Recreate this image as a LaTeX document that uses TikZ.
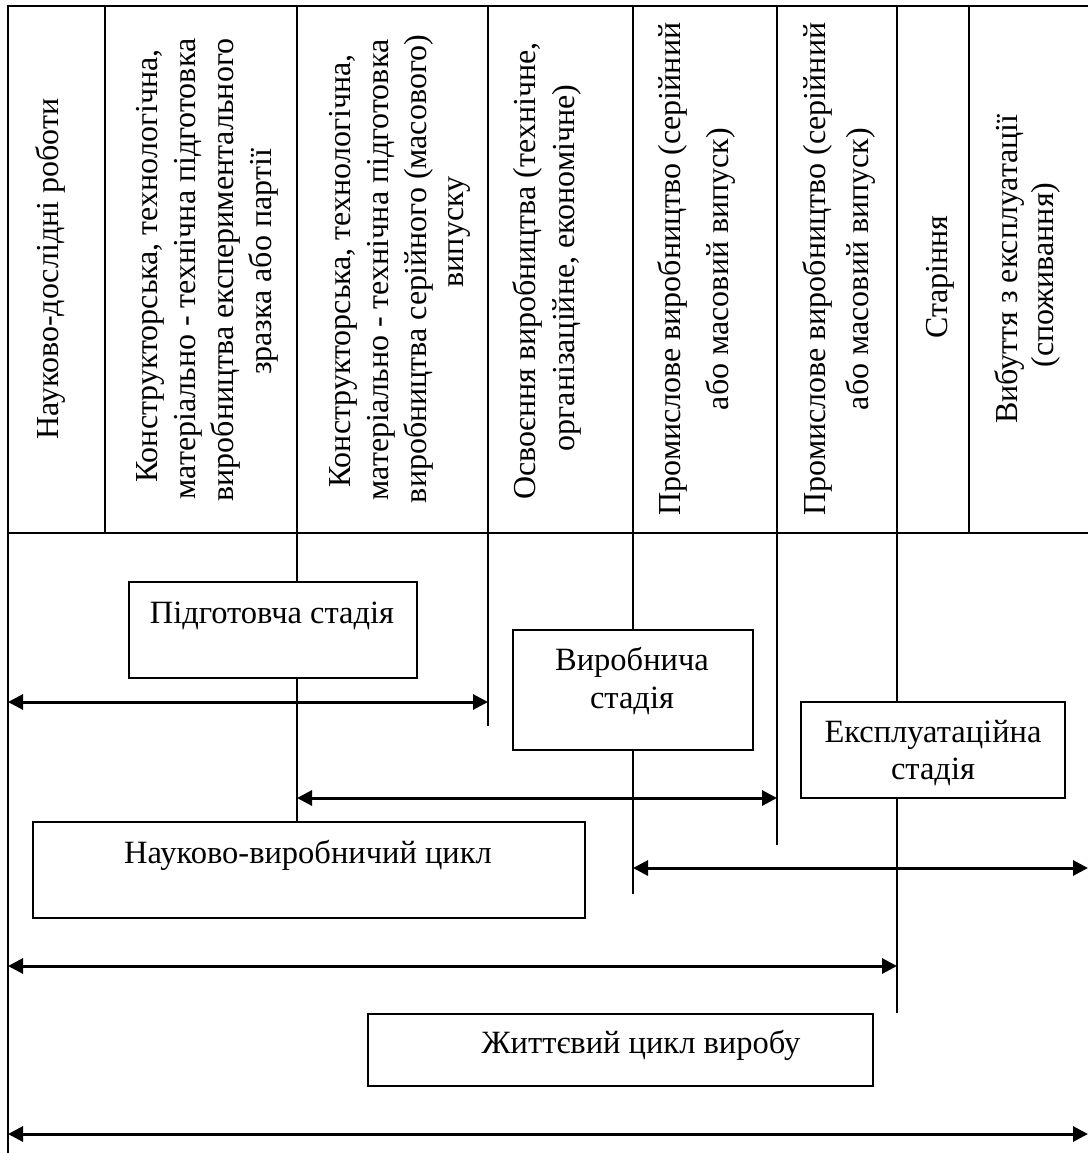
\documentclass[tikz,border=0pt]{standalone}
\usepackage{fontspec}
\setmainfont{Liberation Serif}
\usetikzlibrary{arrows.meta}
\begin{document}
\begin{tikzpicture}[x=1pt,y=-1pt,
  frame/.style={line width=2.3pt},
  thinline/.style={line width=2pt},
  box/.style={draw, line width=2pt, inner sep=0pt, fill=white},
  vtext/.style={rotate=90, anchor=base, inner sep=0pt, font=\fontsize{32}{37}\selectfont},
  htext/.style={anchor=base, inner sep=0pt, font=\fontsize{32.5}{37}\selectfont},
  span/.style={line width=3pt, {Triangle[length=15pt,width=15pt]}-{Triangle[length=15pt,width=15pt]}}
]
\useasboundingbox (0,0) rectangle (1088,1153);
% frame coordinates
\coordinate (tl) at (8,6);
\coordinate (tr) at (1088,6);
\coordinate (bl) at (8,1153);
\coordinate (hl) at (8,533);
\coordinate (hr) at (1088,533);
\foreach \x/\n in {105/1,297/2,488/3,633/4,777/5,897/6,969/7} {
  \coordinate (t\n) at (\x,6);
  \coordinate (h\n) at (\x,533);
}
\draw[frame] (tr) -- (tl) -- (bl);
\draw[frame] (hl) -- (hr);
\foreach \n in {1,...,7} { \draw[frame] (t\n) -- (h\n); }

% header texts
\node[vtext] (c1a) at (58,269) {Науково-дослідні роботи};
\node[vtext] (c2a) at (157,266) {Конструкторська, технологічна,};
\node[vtext] (c2b) at (195,269) {матеріально - технічна підготовка};
\node[vtext] (c2c) at (233,270) {виробництва експериментального};
\node[vtext] (c2d) at (271,262) {зразка або партії};
\node[vtext] (c3a) at (350,271) {Конструкторська, технологічна,};
\node[vtext] (c3b) at (388,270) {матеріально - технічна підготовка};
\node[vtext] (c3c) at (426,269) {виробництва серійного (масового)};
\node[vtext] (c3d) at (463,232) {випуску};
\node[vtext] (c4a) at (535,271) {Освоєння виробництва (технічне,};
\node[vtext] (c4b) at (574,268) {організаційне, економічне)};
\node[vtext] (c5a) at (680,269) {Промислове виробництво (серійний};
\node[vtext] (c5b) at (728,269) {або масовий випуск)};
\node[vtext] (c6a) at (825,269) {Промислове виробництво (серійний};
\node[vtext] (c6b) at (868,269) {або масовий випуск)};
\node[vtext] (c7a) at (947,277) {Старіння};
\node[vtext] (c8a) at (1017,269) {Вибуття з експлуатації};
\node[vtext] (c8b) at (1053,275) {(споживання)};

% boxes
\node[box, minimum width=288pt, minimum height=96pt] (prep) at (273,630) {};
\node[box, minimum width=240pt, minimum height=120pt] (prod) at (633,690) {};
\node[box, minimum width=264pt, minimum height=96pt] (expl) at (933,750) {};
\node[box, minimum width=552pt, minimum height=96pt] (nvc) at (309,870) {};
\node[box, minimum width=505pt, minimum height=72pt] (life) at (620.5,1050) {};

\node[htext] (prepT) at (272,623) {Підготовча стадія};
\node[htext] (prodT1) at (632,670) {Виробнича};
\node[htext] (prodT2) at (632,708) {стадія};
\node[htext] (explT1) at (933,742) {Експлуатаційна};
\node[htext] (explT2) at (933,779) {стадія};
\node[htext] (nvcT) at (308,863) {Науково-виробничий цикл};
\node[htext] (lifeT) at (641,1053) {Життєвий цикл виробу};

% lower verticals
\coordinate (e3) at (488,726);
\coordinate (e4) at (633,894);
\coordinate (e5) at (777,845);
\coordinate (e6) at (897,1013);
\draw[thinline] (h2) -- (h2 |- prep.north);
\draw[thinline] (h2 |- prep.south) -- (h2 |- nvc.north);
\draw[thinline] (h3) -- (e3);
\draw[thinline] (h4) -- (h4 |- prod.north);
\draw[thinline] (h4 |- prod.south) -- (e4);
\draw[thinline] (h5) -- (e5);
\draw[thinline] (h6) -- (h6 |- expl.north);
\draw[thinline] (h6 |- expl.south) -- (e6);

% spans
\coordinate (a1l) at (8,702);   \coordinate (a1r) at (488,702);
\coordinate (a2l) at (297,798); \coordinate (a2r) at (777,798);
\coordinate (a3l) at (633,868); \coordinate (a3r) at (1088,868);
\coordinate (a4l) at (8,966);   \coordinate (a4r) at (897,966);
\coordinate (a5l) at (8,1134);  \coordinate (a5r) at (1088,1134);
\draw[span] (a1l) -- (a1r);
\draw[span] (a2l) -- (a2r);
\draw[span] (a3l) -- (a3r);
\draw[span] (a4l) -- (a4r);
\draw[span] (a5l) -- (a5r);
\end{tikzpicture}
\end{document}
